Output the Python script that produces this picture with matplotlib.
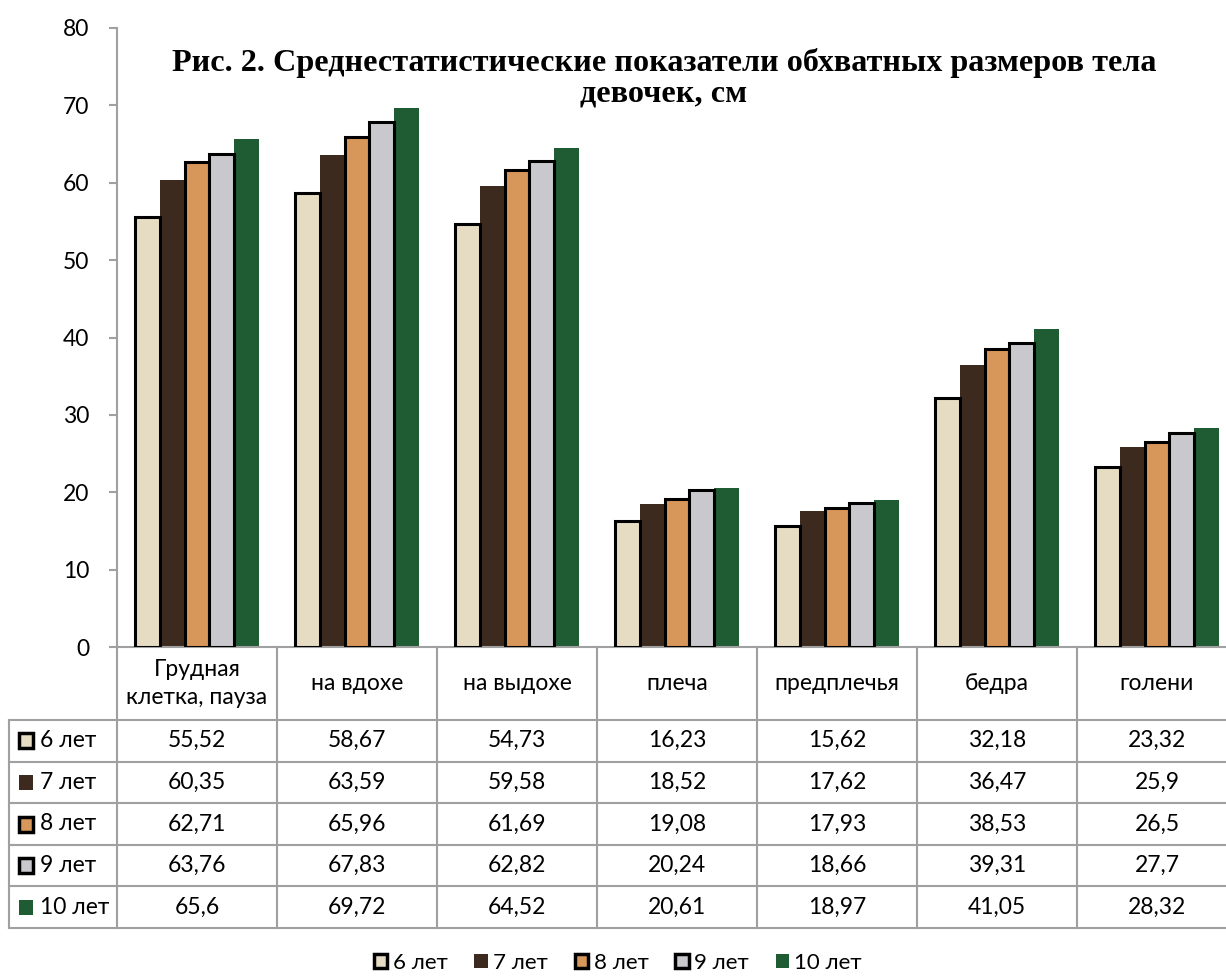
import matplotlib
matplotlib.use('Agg')
import matplotlib.pyplot as plt
from matplotlib.patches import Patch
import numpy as np

plt.rcParams['font.family'] = ['Lato', 'DejaVu Sans']

categories = ['Грудная\nклетка, пауза', 'на вдохе', 'на выдохе', 'плеча',
              'предплечья', 'бедра', 'голени']
series = ['6 лет', '7 лет', '8 лет', '9 лет', '10 лет']
age6 = [55.52, 58.67, 54.73, 16.23, 15.62, 32.18, 23.32]
age7 = [60.35, 63.59, 59.58, 18.52, 17.62, 36.47, 25.9]
age8 = [62.71, 65.96, 61.69, 19.08, 17.93, 38.53, 26.5]
age9 = [63.76, 67.83, 62.82, 20.24, 18.66, 39.31, 27.7]
age10 = [65.6, 69.72, 64.52, 20.61, 18.97, 41.05, 28.32]
values = [age6, age7, age8, age9, age10]

colors = ['#e6dcc3', '#3d2a1f', '#d8975a', '#c9c9cd', '#1f5b33']
edged = [True, False, True, True, False]
grid_col = '#a0a0a0'
fs = 16.5

W, H = 1226, 976
fig = plt.figure(figsize=(W / 100, H / 100), dpi=100)

# main chart, category width = 160 px (last column runs off the picture)
ax = fig.add_axes([117 / W, 1 - 647 / H, 1120 / W, (647 - 28) / H])
x = np.arange(len(categories))
bw = 0.156
for i, (vals, c) in enumerate(zip(values, colors)):
    if edged[i]:
        ax.bar(x + (i - 2) * bw, vals, bw, color=c, edgecolor='black', linewidth=2.2, zorder=3)
    else:
        ax.bar(x + (i - 2) * bw, vals, bw, color=c, linewidth=0, zorder=2)

ax.set_xlim(-0.5, 6.5)
ax.set_ylim(0, 80)
ax.set_yticks(range(0, 81, 10))
ax.set_xticks([])
for s in ['top', 'right']:
    ax.spines[s].set_visible(False)
for s in ['left', 'bottom']:
    ax.spines[s].set_color(grid_col)
    ax.spines[s].set_linewidth(1.5)
ax.tick_params(axis='y', length=6, width=1.5, color=grid_col, labelsize=16.5, pad=14)

fig.text(664 / W, 1 - 48 / H,
         'Рис. 2. Среднестатистические показатели обхватных размеров тела\nдевочек, см',
         ha='center', va='top', family='Liberation Serif', weight='bold',
         fontsize=23.2, linespacing=1.08)

# data table under the chart
tab = fig.add_axes([117 / W, 1 - 928 / H, 1120 / W, (928 - 647) / H])
tab.set_xlim(-0.5, 6.5)
tab.set_ylim(281, 0)
tab.axis('off')
head_h = 73
row_h = (281 - head_h) / 5
left_x = -0.5 - 108 / 160
right_x = 6.5

for k in range(len(categories) + 1):
    tab.plot([k - 0.5, k - 0.5], [0, 281], color=grid_col, lw=1.5, clip_on=False)
tab.plot([left_x, left_x], [head_h, 281], color=grid_col, lw=1.5, clip_on=False)
for r in range(6):
    yy = head_h + r * row_h
    tab.plot([left_x, right_x], [yy, yy], color=grid_col, lw=1.5, clip_on=False)

for k, cat in enumerate(categories):
    tab.text(k, head_h / 2, cat, ha='center', va='center', fontsize=fs, linespacing=1.4)

for i, name in enumerate(series):
    yc = head_h + (i + 0.5) * row_h
    mx = -0.5 - 91 / 160
    tab.add_patch(plt.Rectangle((mx - 0.045, yc - 7.5), 0.09, 15, facecolor=colors[i],
                                edgecolor='black' if edged[i] else colors[i],
                                linewidth=2.5 if edged[i] else 0, clip_on=False))
    tab.text(-0.5 - 77 / 160, yc, name, ha='left', va='center', fontsize=fs)
    for k, v in enumerate(values[i]):
        tab.text(k, yc, f'{v:g}'.replace('.', ','), ha='center', va='center', fontsize=fs)

handles = [Patch(facecolor=c, edgecolor='black' if e else c, linewidth=2.5 if e else 0)
           for c, e in zip(colors, edged)]
fig.legend(handles, series, loc='center', bbox_to_anchor=(618 / W, 1 - 963 / H),
           ncol=5, frameon=False, fontsize=16, handlelength=0.6, handleheight=0.6,
           handletextpad=0.25, columnspacing=1.2, borderpad=0)

fig.savefig('out.png', dpi=100)
